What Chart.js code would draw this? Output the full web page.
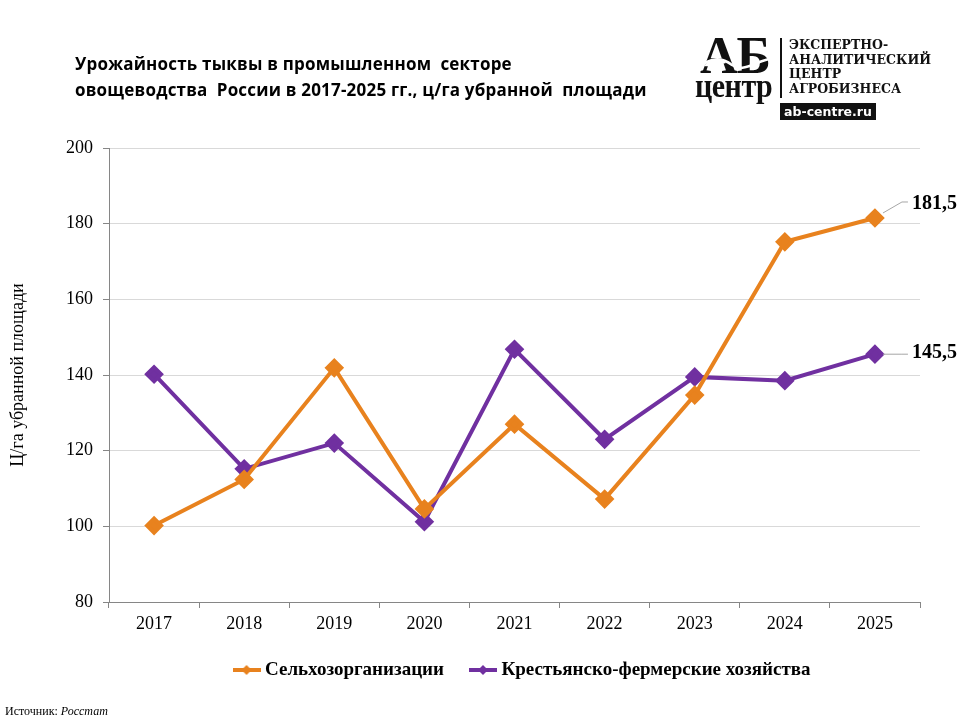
<!DOCTYPE html>
<html>
<head>
<meta charset="utf-8">
<script src="https://cdn.jsdelivr.net/npm/chart.js@4"></script>
<style>
  body { margin: 0; background: #fff; }
  #wrap { position: relative; width: 960px; height: 720px; overflow: hidden; }
  #chart { position: absolute; left: 0; top: 0; }
  #title { position: absolute; left: 75px; top: 51px; font: bold 17px "Open Sans", sans-serif; line-height: 26px; letter-spacing: 0.2px; color: #000; white-space: pre; }
  #source { position: absolute; left: 5px; top: 704px; font: 12px "Liberation Serif", serif; color: #000; }
  #logo { position: absolute; left: 690px; top: 34px; width: 242px; height: 88px; }
  #logo .ab { position: absolute; left: 10px; top: -4px; font: bold 52px "Liberation Serif", serif; line-height: 52px; letter-spacing: -1px; color: #111; }
  #logo .ctr { position: absolute; left: 5px; top: 38px; font: bold 30px "Liberation Serif", serif; line-height: 32px; letter-spacing: -0.5px; color: #111; transform: scaleY(1.1); transform-origin: bottom left; }
  #logo svg { position: absolute; left: 0; top: 0; }
  #logo .bar { position: absolute; left: 90px; top: 4px; width: 2px; height: 60px; background: #111; }
  #logo .txt { position: absolute; left: 99px; top: 4px; font: bold 12.5px "DejaVu Serif", serif; line-height: 14.5px; color: #111; }
  #logo .url { position: absolute; left: 90px; top: 69px; width: 96px; height: 17px; background: #111; color: #fff; font: bold 12.5px "DejaVu Sans", sans-serif; text-align: center; line-height: 17px; }
</style>
</head>
<body>
<div id="wrap">
  <canvas id="chart" width="960" height="720"></canvas>
  <div id="title">Урожайность тыквы в промышленном  секторе
овощеводства  России в 2017-2025 гг., ц/га убранной  площади</div>
  <div id="logo">
    <div class="ab">АБ</div>
    <svg width="90" height="50" viewBox="0 0 90 50">
      <path d="M8,34 C20,23 32,23 42,31 C54,39 66,27 80,25" fill="none" stroke="#fff" stroke-width="2.5"/>
      <path d="M14,32 C20,23 32,23 36,29 C28,31 20,33 14,32 Z" fill="#fff"/>
    </svg>
    <div class="ctr">центр</div>
    <div class="bar"></div>
    <div class="txt">ЭКСПЕРТНО-<br>АНАЛИТИЧЕСКИЙ<br>ЦЕНТР<br>АГРОБИЗНЕСА</div>
    <div class="url">ab-centre.ru</div>
  </div>
  <div id="source">Источник: <i>Росстат</i></div>
</div>
<script>
// данные
const years = ['2017', '2018', '2019', '2020', '2021', '2022', '2023', '2024', '2025'];
const selhozorg = [100.2, 112.4, 141.9, 104.6, 127.0, 107.2, 134.7, 175.2, 181.5];
const kfh = [140.2, 115.2, 122.0, 101.2, 146.8, 123.0, 139.5, 138.5, 145.5];
const seriesNames = ['Сельхозорганизации', 'Крестьянско-фермерские хозяйства'];
const colors = ['#E8821E', '#7030A0'];

// маркер легенды: линия с ромбом
function legendMarker(color) {
    const c = document.createElement('canvas');
    c.width = 28; c.height = 12;
    const g = c.getContext('2d');
    g.strokeStyle = color; g.lineWidth = 4;
    g.beginPath(); g.moveTo(0, 6); g.lineTo(28, 6); g.stroke();
    g.fillStyle = color;
    g.beginPath(); g.moveTo(14, 1); g.lineTo(19, 6); g.lineTo(14, 11); g.lineTo(9, 6); g.closePath(); g.fill();
    return c;
}

// подписи последних значений с выносной линией
const lastLabels = {
    id: 'lastLabels',
    afterLayout(chart) {
        // легенда в оригинале смещена вправо
        chart.legend.left += 64;
        chart.legend.right += 64;
    },
    afterDatasetsDraw(chart) {
        const ctx = chart.ctx;
        ctx.save();
        ctx.font = 'bold 20px "Liberation Serif", serif';
        ctx.textBaseline = 'middle';
        ctx.fillStyle = '#000';
        ctx.strokeStyle = '#a6a6a6';
        ctx.lineWidth = 1;
        chart.data.datasets.forEach((ds, i) => {
            const meta = chart.getDatasetMeta(i);
            const last = ds.data.length - 1;
            const pt = meta.data[last];
            const up = i === 0 ? 16 : 0;
            ctx.beginPath();
            ctx.moveTo(pt.x + 8, pt.y - (up ? 5 : 0));
            ctx.lineTo(pt.x + 27, pt.y - up);
            ctx.lineTo(pt.x + 33, pt.y - up);
            ctx.stroke();
            ctx.fillText(ds.data[last].toFixed(1).replace('.', ','), pt.x + 37, pt.y - (up ? 14 : 1));
        });
        ctx.restore();
    }
};

const ctx = document.getElementById('chart').getContext('2d');
new Chart(ctx, {
    type: 'line',
    data: {
        labels: years,
        datasets: [{
            label: seriesNames[0],
            data: selhozorg,
            borderColor: colors[0],
            backgroundColor: colors[0],
            borderWidth: 4,
            pointStyle: 'rectRot',
            pointRadius: 7,
            pointHoverRadius: 7,
            fill: false
        }, {
            label: seriesNames[1],
            data: kfh,
            borderColor: colors[1],
            backgroundColor: colors[1],
            borderWidth: 4,
            pointStyle: 'rectRot',
            pointRadius: 7,
            pointHoverRadius: 7,
            fill: false
        }]
    },
    options: {
        responsive: false,
        animation: false,
        layout: { padding: { top: 148, right: 40, bottom: 30.5, left: 0 } },
        scales: {
            x: {
                offset: true,
                grid: { offset: true, drawOnChartArea: false, tickLength: 6, color: '#868686' },
                border: { color: '#868686' },
                ticks: { color: '#000', padding: 5, font: { family: '"Liberation Serif", serif', size: 18 } },
                afterFit(scale) { scale.height = 28.5; }
            },
            y: {
                min: 80,
                max: 200,
                ticks: { stepSize: 20, color: '#000', padding: 10, font: { family: '"Liberation Serif", serif', size: 18 } },
                grid: { color: '#d9d9d9', tickColor: '#868686', tickLength: 6 },
                border: { color: '#868686' },
                title: {
                    display: true,
                    text: 'Ц/га убранной площади',
                    color: '#000',
                    padding: { top: 7, bottom: 0 },
                    font: { family: '"Liberation Serif", serif', size: 18 }
                },
                afterFit(scale) { scale.width = 109; }
            }
        },
        plugins: {
            legend: {
                position: 'bottom',
                labels: {
                    usePointStyle: true,
                    pointStyleWidth: 18,
                    padding: 30,
                    color: '#000',
                    font: { family: '"Liberation Serif", serif', size: 19, weight: 'bold' },
                    generateLabels(chart) {
                        return chart.data.datasets.map((ds, i) => ({
                            text: ds.label,
                            fillStyle: colors[i],
                            strokeStyle: colors[i],
                            fontColor: '#000',
                            pointStyle: legendMarker(colors[i]),
                            datasetIndex: i,
                            lineWidth: 0
                        }));
                    }
                }
            },
            tooltip: { enabled: false }
        }
    },
    plugins: [lastLabels]
});
</script>
</body>
</html>
